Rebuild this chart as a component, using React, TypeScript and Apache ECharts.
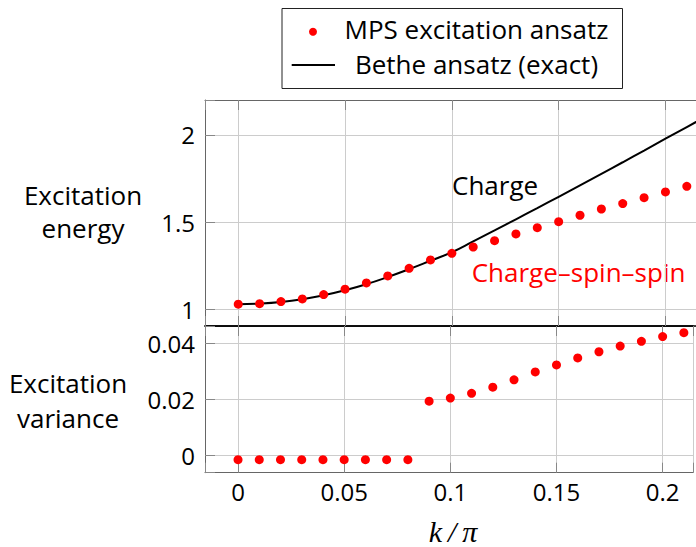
import React, { useEffect, useRef } from "react";
import * as echarts from "echarts";

// k/pi sample positions
const kValues = [0, 0.01, 0.02, 0.03, 0.04, 0.05, 0.06, 0.07, 0.08, 0.09, 0.1, 0.11, 0.12, 0.13, 0.14, 0.15, 0.16, 0.17, 0.18, 0.19, 0.2, 0.21];
// MPS excitation energy (dots, top panel)
const mpsEnergy = [1.029, 1.032, 1.044, 1.059, 1.084, 1.115, 1.151, 1.191, 1.235, 1.283, 1.321, 1.357, 1.393, 1.432, 1.468, 1.502, 1.539, 1.575, 1.606, 1.64, 1.673, 1.705];
// MPS excitation variance (dots, bottom panel)
const mpsVariance = [-0.0014, -0.0014, -0.0014, -0.0014, -0.0014, -0.0014, -0.0014, -0.0014, -0.0014, 0.0194, 0.0205, 0.0222, 0.0244, 0.027, 0.0298, 0.0323, 0.0348, 0.037, 0.039, 0.0407, 0.0424, 0.0438];
// Bethe ansatz exact charge excitation
const betheK = [0, 0.01, 0.02, 0.03, 0.04, 0.05, 0.06, 0.07, 0.08, 0.09, 0.1, 0.11, 0.12, 0.13, 0.14, 0.15, 0.16, 0.17, 0.18, 0.19, 0.2, 0.21, 0.22];
const betheEnergy = [1.029, 1.032, 1.041, 1.057, 1.080, 1.109, 1.144, 1.185, 1.230, 1.278, 1.327, 1.389, 1.452, 1.516, 1.580, 1.645, 1.711, 1.777, 1.843, 1.910, 1.978, 2.045, 2.112];

const xTickLabels = ["0", "0.05", "0.1", "0.15", "0.2"];
const energyTickLabels = ["1", "1.5", "2"];
const varianceTickLabels = ["0", "0.02", "0.04"];

const FONT = "Open Sans";
const GRID_COLOR = "#cccccc";
const FRAME = "#666666";
const TICK = "#888888";

function fmt(list: string[]) {
  return (v: number) => {
    for (const s of list) {
      if (Math.abs(parseFloat(s) - v) < 1e-7) return s;
    }
    return "";
  };
}

export default function App() {
  const ref = useRef<HTMLDivElement>(null);
  useEffect(() => {
    if (!ref.current) return;
    const chart = echarts.init(ref.current, null, { renderer: "svg" });
    const xMin = -0.01556;
    const xMax = 0.2143;
    const labelStyle = { fontFamily: FONT, fontSize: 24, color: "#000" };
    const baseX = (gridIndex: number, position: string, lineColor: string, showLabel: boolean, split: boolean) => ({
      type: "value",
      gridIndex,
      position,
      min: xMin,
      max: xMax,
      minInterval: 0.05,
      maxInterval: 0.05,
      axisLine: { show: true, onZero: false, lineStyle: { color: lineColor, width: lineColor === "#000" ? 1.5 : 1 } },
      axisTick: { show: true, inside: true, length: 10, lineStyle: { color: TICK } },
      axisLabel: { show: showLabel, margin: 7, formatter: fmt(xTickLabels), ...labelStyle },
      splitLine: { show: split, lineStyle: { color: GRID_COLOR, width: 1 } },
    });
    const option: any = {
      animation: false,
      grid: [
        { left: 205, top: 100, width: 492, height: 226, containLabel: false },
        { left: 205, top: 326, width: 492, height: 146.7, containLabel: false },
      ],
      xAxis: [
        baseX(0, "bottom", "#000", false, true),
        baseX(1, "bottom", FRAME, true, true),
        baseX(0, "top", FRAME, false, false),
        baseX(1, "top", "#000", false, false),
      ],
      yAxis: [
        {
          type: "value",
          gridIndex: 0,
          min: 0.904,
          max: 2.2,
          minInterval: 0.5,
          maxInterval: 0.5,
          axisLine: { show: true, onZero: false, lineStyle: { color: FRAME } },
          axisTick: { show: true, inside: true, length: 10, lineStyle: { color: TICK } },
          axisLabel: { margin: 10, formatter: fmt(energyTickLabels), ...labelStyle },
          splitLine: { show: true, lineStyle: { color: GRID_COLOR, width: 1 } },
        },
        {
          type: "value",
          gridIndex: 1,
          min: -0.00605,
          max: 0.04616,
          minInterval: 0.02,
          maxInterval: 0.02,
          axisLine: { show: true, onZero: false, lineStyle: { color: FRAME } },
          axisTick: { show: true, inside: true, length: 10, lineStyle: { color: TICK } },
          axisLabel: { margin: 10, formatter: fmt(varianceTickLabels), ...labelStyle },
          splitLine: { show: true, lineStyle: { color: GRID_COLOR, width: 1 } },
        },
      ],
      series: [
        {
          name: "Bethe ansatz (exact)",
          type: "line",
          xAxisIndex: 0,
          yAxisIndex: 0,
          data: betheK.map((k, i) => [k, betheEnergy[i]]),
          smooth: true,
          showSymbol: false,
          symbol: "none",
          clip: true,
          lineStyle: { color: "#000", width: 2 },
          z: 3,
        },
        {
          name: "MPS excitation ansatz",
          type: "scatter",
          xAxisIndex: 0,
          yAxisIndex: 0,
          data: kValues.map((k, i) => [k, mpsEnergy[i]]),
          symbol: "circle",
          symbolSize: 9,
          itemStyle: { color: "#ff0000", opacity: 1 },
          z: 4,
        },
        {
          name: "MPS excitation variance",
          type: "scatter",
          xAxisIndex: 1,
          yAxisIndex: 1,
          data: kValues.map((k, i) => [k, mpsVariance[i]]),
          symbol: "circle",
          symbolSize: 9,
          itemStyle: { color: "#ff0000", opacity: 1 },
          z: 4,
        },
      ],
      graphic: [
        { type: "rect", shape: { x: 282, y: 8.5, width: 340.5, height: 80 }, style: { fill: "#fff", stroke: "#222", lineWidth: 1 }, z: 10 },
        { type: "circle", shape: { cx: 313, cy: 31.7, r: 4 }, style: { fill: "#ff0000" }, z: 11 },
        { type: "line", shape: { x1: 291.7, y1: 65, x2: 335, y2: 65 }, style: { stroke: "#000", lineWidth: 2 }, z: 11 },
        { type: "text", x: 476.5, y: 29, style: { text: "MPS excitation ansatz", fontFamily: FONT, fontSize: 26, fill: "#000", textAlign: "center", textVerticalAlign: "middle" }, z: 11 },
        { type: "text", x: 476.5, y: 63.5, style: { text: "Bethe ansatz (exact)", fontFamily: FONT, fontSize: 26, fill: "#000", textAlign: "center", textVerticalAlign: "middle" }, z: 11 },
        { type: "text", x: 83, y: 195, style: { text: "Excitation", fontFamily: FONT, fontSize: 26, fill: "#000", textAlign: "center", textVerticalAlign: "middle" } },
        { type: "text", x: 83, y: 228, style: { text: "energy", fontFamily: FONT, fontSize: 26, fill: "#000", textAlign: "center", textVerticalAlign: "middle" } },
        { type: "text", x: 68, y: 383, style: { text: "Excitation", fontFamily: FONT, fontSize: 26, fill: "#000", textAlign: "center", textVerticalAlign: "middle" } },
        { type: "text", x: 68, y: 418, style: { text: "variance", fontFamily: FONT, fontSize: 26, fill: "#000", textAlign: "center", textVerticalAlign: "middle" } },
        { type: "text", x: 452, y: 185, style: { text: "Charge", fontFamily: FONT, fontSize: 26, fill: "#000", textAlign: "left", textVerticalAlign: "middle" } },
        { type: "text", x: 471.7, y: 272, style: { text: "Charge–spin–spin", fontFamily: FONT, fontSize: 26, fill: "#ff0000", textAlign: "left", textVerticalAlign: "middle" } },
        { type: "text", x: 453, y: 531, style: { text: "k\u2009/\u2009π", fontFamily: "Liberation Serif", fontStyle: "italic", fontSize: 30, fill: "#000", textAlign: "center", textVerticalAlign: "middle" } },
      ],
    };
    chart.setOption(option);
    return () => chart.dispose();
  }, []);
  return <div ref={ref} style={{ position: "absolute", left: 0, top: 0, width: 696, height: 547 }} />;
}
